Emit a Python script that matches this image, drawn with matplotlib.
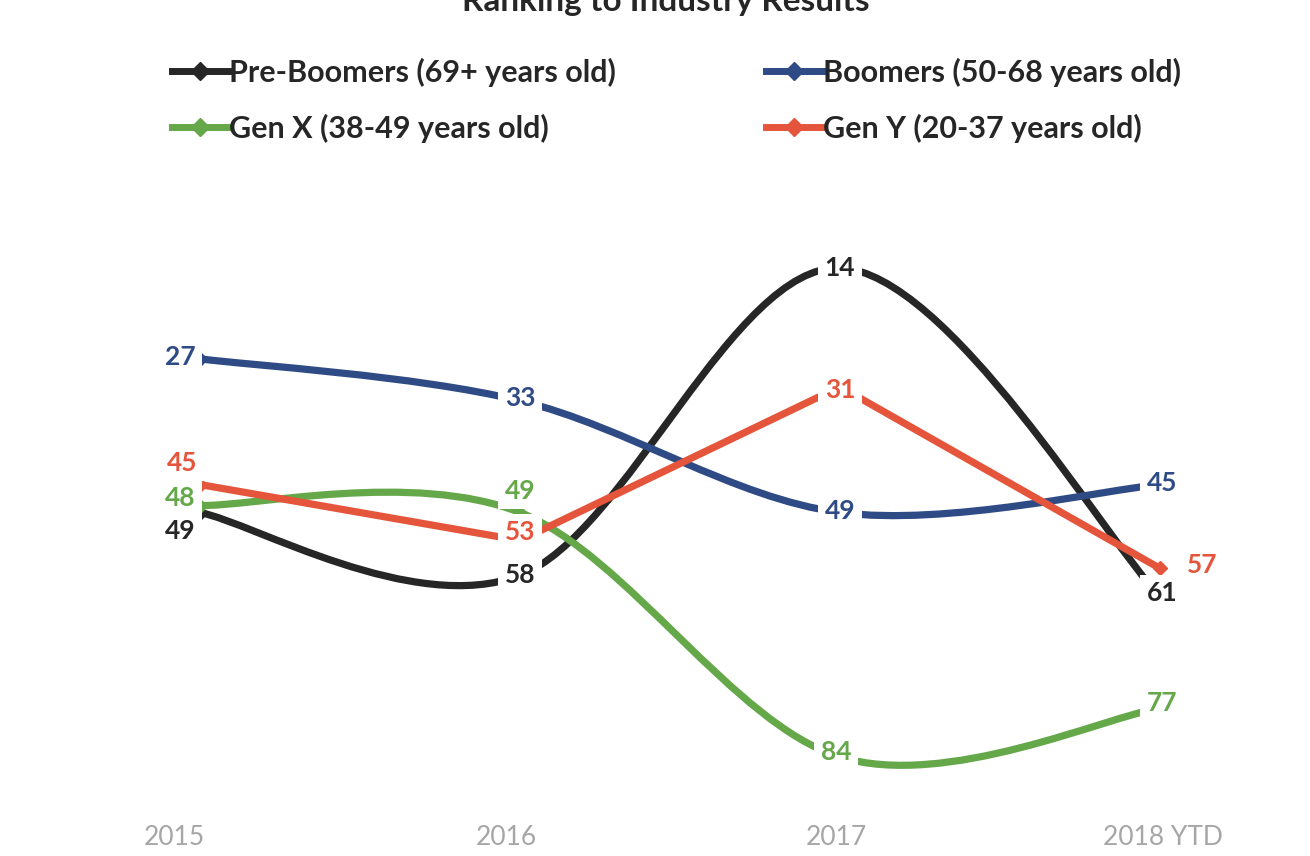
import matplotlib.pyplot as plt
import numpy as np
from matplotlib.path import Path
from matplotlib.patches import PathPatch
from matplotlib.lines import Line2D
from matplotlib.transforms import ScaledTranslation

## Data
years = ['2015', '2016', '2017', '2018 YTD']
pre_boomers = [49, 58, 14, 61]
boomers = [27, 33, 49, 45]
gen_x = [48, 49, 84, 77]
gen_y = [45, 53, 31, 57]

names = ['Pre-Boomers (69+ years old)', 'Boomers (50-68 years old)',
         'Gen X (38-49 years old)', 'Gen Y (20-37 years old)']
colors = ['#262626', '#2F4B85', '#65A84A', '#E4553B']
smoothed = [True, True, True, False]

## label offsets in pixels (dx, dy), dy positive = down
offsets = [
    [(-20, 18), (0, 0), (0, 0), (2, -3)],
    [(-20, -2), (0, -3), (0, -2), (2, -2)],
    [(-20, -8), (0, -22), (-4, -5), (2, -5)],
    [(-18, -22), (0, -8), (0, 3), (42, -3)],
]
tick_shift = [-26, -14, -4, 3]

plt.rcParams['font.family'] = ['Lato', 'DejaVu Sans']

fig = plt.figure(figsize=(13.1, 8.56), dpi=100)
ax = fig.add_axes([0, 1 - 800 / 856, 1, 600 / 856])


def smooth_path(xs, ys):
    # bezier segments like a spreadsheet "smoothed line"
    pts = np.column_stack([xs, ys]).astype(float)
    n = len(pts)
    verts = [pts[0]]
    codes = [Path.MOVETO]
    for i in range(n - 1):
        p0 = pts[max(i - 1, 0)]
        p1 = pts[i]
        p2 = pts[i + 1]
        p3 = pts[min(i + 2, n - 1)]
        c1 = p1 + (p2 - p0) / 6
        c2 = p2 - (p3 - p1) / 6
        verts += [c1, c2, p2]
        codes += [Path.CURVE4] * 3
    return Path(verts, codes)


x = np.arange(len(years))
series = [pre_boomers, boomers, gen_x, gen_y]
for k, vals in enumerate(series):
    if smoothed[k]:
        patch = PathPatch(smooth_path(x, vals), fill=False, edgecolor=colors[k],
                          lw=5.2, capstyle='butt', zorder=2 + k * 0.1)
        ax.add_patch(patch)
        ax.plot(x, vals, linestyle='none', marker='D', ms=7, color=colors[k],
                zorder=2 + k * 0.1)
    else:
        ax.plot(x, vals, lw=5.2, marker='D', ms=7, color=colors[k],
                solid_capstyle='butt', zorder=2 + k * 0.1)
    for i, v in enumerate(vals):
        dx, dy = offsets[k][i]
        ax.annotate(str(v), (x[i], v), xytext=(dx * 0.72, -dy * 0.72),
                    textcoords='offset points', ha='center', va='center',
                    fontsize=19, fontweight='bold', color=colors[k],
                    bbox=dict(boxstyle='square,pad=0.25', fc='white', ec='none'),
                    zorder=5)

## axes config
ax.set_xlim(-0.625, 3.46875)
ax.set_ylim(90.155, 4.266)
ax.set_xticks(x)
ax.set_xticklabels(years, fontsize=19, color='#A6A6A6')
ax.tick_params(axis='x', length=0, pad=18)
for lab, sh in zip(ax.get_xticklabels(), tick_shift):
    lab.set_transform(lab.get_transform() + ScaledTranslation(sh / 100, 0, fig.dpi_scale_trans))
ax.set_yticks([])
for s in ax.spines.values():
    s.set_visible(False)

## title (cut off at the top like the reference)
fig.text(0.508, 1 - 11 / 856, 'Ranking to Industry Results', ha='center',
         va='baseline', fontsize=24, fontweight='bold', color='#262626')

## legend
handles = [Line2D([], [], color=c, lw=5, marker='D', ms=9) for c in colors]
order = [0, 2, 1, 3]
leg = fig.legend([handles[i] for i in order], [names[i] for i in order],
                 ncol=2, loc='upper left', bbox_to_anchor=(172 / 1310, 1 - 58 / 856),
                 frameon=False, fontsize=22, handlelength=1.83,
                 handletextpad=0.05, columnspacing=4.9, labelspacing=0.88,
                 borderaxespad=0, borderpad=0)
for t in leg.get_texts():
    t.set_fontweight('bold')
    t.set_color('#262626')

plt.savefig('out.png', dpi=100)
